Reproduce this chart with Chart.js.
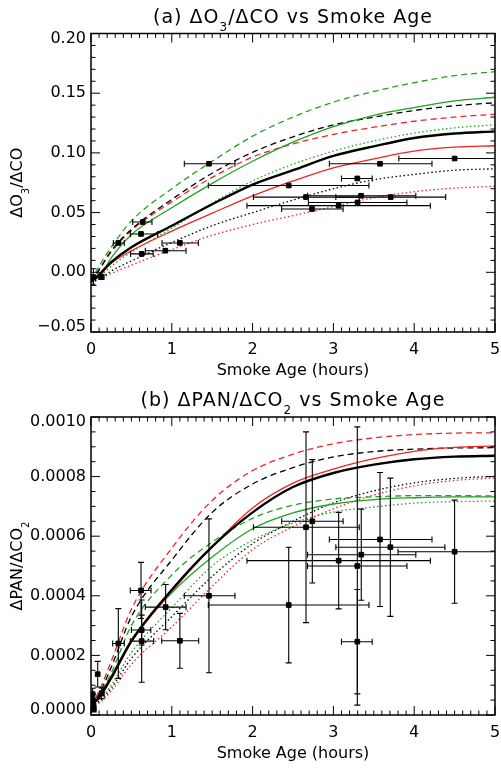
<!DOCTYPE html>
<html>
<head>
<meta charset="utf-8">
<script src="https://cdn.jsdelivr.net/npm/chart.js@4/dist/chart.umd.min.js"></script>
<style>
  body { margin: 0; background: #fff; }
  canvas { display: block; }
</style>
</head>
<body>
<canvas id="chartA" width="501" height="385"></canvas>
<canvas id="chartB" width="501" height="385"></canvas>
<script>
// ---------- shared axis / model grid ----------
const AGE_TICKS = [0, 1, 2, 3, 4, 5];
const AGE_GRID = [0, 0.1, 0.25, 0.5, 1, 1.5, 2, 2.5, 3, 3.5, 4, 4.5, 5];

// ---------- panel (a) dO3/dCO ----------
const O3_TICKS = [-0.05, 0, 0.05, 0.10, 0.15, 0.20];
const O3_TICK_LABELS = ['\u22120.05', '0.00', '0.05', '0.10', '0.15', '0.20'];

const AGE_A    = [0.03, 0.13, 0.338, 0.619, 0.627, 0.64, 0.92, 1.10, 1.46, 2.447, 2.661, 2.735, 3.065, 3.296, 3.30, 3.342, 3.577, 3.709, 4.50];
const AGE_LO_A = [0.03, 0.10, 0.276, 0.486, 0.49, 0.516, 0.672, 0.879, 1.155, 1.452, 2.01, 2.36, 1.93, 3.10, 2.69, 2.68, 2.95, 3.03, 3.81];
const AGE_HI_A = [0.03, 0.16, 0.412, 0.826, 0.77, 0.755, 1.176, 1.328, 1.782, 3.44, 3.32, 3.12, 4.20, 3.48, 3.91, 4.02, 4.22, 4.39, 5.2];
const O3_A     = [-0.004, -0.004, 0.0246, 0.0321, 0.0154, 0.0421, 0.0181, 0.0246, 0.0909, 0.0727, 0.063, 0.053, 0.0558, 0.0786, 0.0585, 0.0641, 0.0909, 0.063, 0.0953];
const O3_ERR_A = [0.007, 0.002, 0, 0, 0, 0, 0, 0, 0, 0, 0, 0, 0, 0, 0, 0, 0, 0, 0];

const O3_BLACK_SOLID  = [-0.008, -0.002, 0.0085, 0.021, 0.039, 0.057, 0.0735, 0.0855, 0.0975, 0.1055, 0.1125, 0.1162, 0.118];
const O3_RED_SOLID    = [-0.008, -0.003, 0.0075, 0.018, 0.0345, 0.0495, 0.064, 0.0765, 0.0875, 0.095, 0.1015, 0.1048, 0.106];
const O3_GREEN_SOLID  = [-0.006, -0.0045, 0.012, 0.0315, 0.054, 0.0745, 0.093, 0.109, 0.122, 0.1315, 0.138, 0.1435, 0.1466];
const O3_BLACK_DASH   = [-0.008, 0.002, 0.018, 0.036, 0.061, 0.083, 0.1005, 0.1135, 0.1235, 0.130, 0.1355, 0.1395, 0.142];
const O3_RED_DASH     = [-0.008, 0.002, 0.017, 0.035, 0.059, 0.0795, 0.0965, 0.1075, 0.1155, 0.1215, 0.1265, 0.130, 0.1324];
const O3_GREEN_DASH   = [-0.008, 0.005, 0.021, 0.043, 0.070, 0.093, 0.114, 0.130, 0.1425, 0.1515, 0.1588, 0.1647, 0.168];
const O3_BLACK_DOT    = [-0.008, -0.006, 0.001, 0.0095, 0.025, 0.039, 0.050, 0.0605, 0.070, 0.0775, 0.082, 0.0855, 0.0867];
const O3_RED_DOT      = [-0.008, -0.006, -0.001, 0.006, 0.019, 0.031, 0.040, 0.0475, 0.055, 0.0625, 0.0675, 0.0705, 0.072];
const O3_GREEN_DOT    = [-0.008, -0.004, 0.005, 0.017, 0.037, 0.058, 0.0765, 0.0905, 0.1015, 0.110, 0.1165, 0.121, 0.1235];

// ---------- panel (b) dPAN/dCO2 ----------
const PAN_TICKS = [0, 0.0002, 0.0004, 0.0006, 0.0008, 0.0010];
const PAN_TICK_LABELS = ['0.0000', '0.0002', '0.0004', '0.0006', '0.0008', '0.0010'];

const AGE_B     = [0.02, 0.025, 0.03, 0.035, 0.083, 0.132, 0.338, 0.619, 0.627, 0.627, 0.924, 1.10, 1.46, 2.447, 2.661, 2.739, 3.065, 3.296, 3.296, 3.345, 3.577, 3.705, 4.50];
const AGE_LO_B  = [0.02, 0.025, 0.03, 0.035, 0.083, 0.11, 0.268, 0.486, 0.50, 0.486, 0.672, 0.875, 1.155, 1.452, 2.01, 2.36, 1.93, 2.68, 3.10, 2.68, 2.95, 3.03, 3.80];
const AGE_HI_B  = [0.02, 0.025, 0.03, 0.035, 0.083, 0.16, 0.412, 0.743, 0.74, 0.776, 1.176, 1.333, 1.782, 3.44, 3.32, 3.12, 4.20, 3.91, 3.48, 4.02, 4.22, 4.38, 5.2];
const PAN_B     = [0.00007, 0.00005, 0.000035, 0.00002, 0.000137, 0.000073, 0.00024, 0.000418, 0.000285, 0.000248, 0.000362, 0.000249, 0.0004, 0.000369, 0.00063, 0.00065, 0.000518, 0.0005, 0.000246, 0.000538, 0.000589, 0.000563, 0.000548];
const PAN_ERR_B = [0.00002, 0.00002, 0.000015, 0.00001, 0.000043, 0.000018, 0.000117, 0.000094, 0.00005, 0.000138, 0.000076, 0.000092, 0.000258, 0.000194, 0.00032, 0.000207, 0.000162, 0.000467, 0.000175, 0.000153, 0.000225, 0.000232, 0.000173];

const PAN_BLACK_SOLID = [0.00003, 0.00006, 0.000125, 0.000248, 0.00042, 0.000565, 0.00068, 0.000765, 0.000812, 0.00084, 0.000858, 0.000867, 0.00087];
const PAN_RED_SOLID   = [0.00003, 0.000055, 0.00012, 0.000245, 0.000415, 0.000565, 0.000695, 0.000778, 0.000825, 0.00086, 0.000885, 0.000898, 0.000903];
const PAN_GREEN_SOLID = [0.00003, 0.00006, 0.00013, 0.000252, 0.00041, 0.00053, 0.000625, 0.000678, 0.000708, 0.000723, 0.000729, 0.000732, 0.000732];
const PAN_BLACK_DASH  = [0.00003, 0.00007, 0.00016, 0.00033, 0.00052, 0.00068, 0.000775, 0.00083, 0.000866, 0.000884, 0.000892, 0.000896, 0.000897];
const PAN_RED_DASH    = [0.00003, 0.00008, 0.00018, 0.000355, 0.00056, 0.00072, 0.00082, 0.000875, 0.00091, 0.00093, 0.000941, 0.000946, 0.000947];
const PAN_GREEN_DASH  = [0.00003, 0.000065, 0.00014, 0.0003, 0.00047, 0.00058, 0.00066, 0.000704, 0.000725, 0.000732, 0.000736, 0.000736, 0.000735];
const PAN_BLACK_DOT   = [0.00003, 0.000045, 0.00009, 0.00019, 0.00033, 0.000465, 0.000575, 0.00065, 0.000712, 0.000752, 0.000779, 0.000794, 0.000801];
const PAN_RED_DOT     = [0.00003, 0.00004, 0.00008, 0.00017, 0.000296, 0.000432, 0.000555, 0.000632, 0.000692, 0.000738, 0.000769, 0.000787, 0.000795];
const PAN_GREEN_DOT   = [0.00003, 0.00005, 0.0001, 0.00021, 0.00036, 0.0005, 0.000586, 0.000644, 0.000681, 0.000698, 0.000711, 0.000716, 0.000718];

// ---------- styles ----------
const RED = 'rgb(238,36,36)';
const GREEN = 'rgb(34,160,34)';
const FONT = '"DejaVu Sans", sans-serif';
const DASH = [6, 4];
const DOT = [1.5, 2.5];

// "{...}" marks a subscript
function parseRich(s) {
  const parts = [];
  const re = /\{([^}]*)\}|([^{]+)/g;
  let m;
  while ((m = re.exec(s))) {
    parts.push(m[1] !== undefined ? { t: m[1], sub: true } : { t: m[2], sub: false });
  }
  return parts;
}

function drawRich(ctx, s, cx, cy, size, rot, spacing) {
  const parts = parseRich(s);
  const subSize = Math.round(size * 0.62);
  ctx.save();
  ctx.letterSpacing = spacing || '0px';
  let w = 0;
  parts.forEach(p => {
    ctx.font = (p.sub ? subSize : size) + 'px ' + FONT;
    p.w = ctx.measureText(p.t).width;
    w += p.w;
  });
  ctx.translate(cx, cy);
  ctx.rotate(rot || 0);
  ctx.textBaseline = 'middle';
  ctx.textAlign = 'left';
  ctx.fillStyle = '#000';
  let x = -w / 2;
  parts.forEach(p => {
    ctx.font = (p.sub ? subSize : size) + 'px ' + FONT;
    ctx.fillText(p.t, x, p.sub ? size * 0.52 : 0);
    x += p.w;
  });
  ctx.restore();
}

// IDL-like box: inward ticks on all sides, labels, titles, error bars
const idlPlugin = {
  id: 'idl',
  beforeDatasetDraw(chart, args, o) {
    if (args.index !== 0) return;
    const { ctx, chartArea: a, scales: { x, y } } = chart;
    ctx.save();
    ctx.beginPath();
    ctx.rect(a.left, a.top, a.right - a.left, a.bottom - a.top);
    ctx.clip();
    ctx.strokeStyle = '#000';
    ctx.lineWidth = 1.1;
    const cap = 3;
    o.ages.forEach((age, i) => {
      const px = x.getPixelForValue(age);
      const py = y.getPixelForValue(o.vals[i]);
      ctx.beginPath();
      if (o.lo[i] < o.hi[i]) {
        const x0 = x.getPixelForValue(o.lo[i]);
        const x1 = x.getPixelForValue(o.hi[i]);
        ctx.moveTo(x0, py); ctx.lineTo(x1, py);
        ctx.moveTo(x0, py - cap); ctx.lineTo(x0, py + cap);
        ctx.moveTo(x1, py - cap); ctx.lineTo(x1, py + cap);
      }
      if (o.err[i] > 0) {
        const y0 = y.getPixelForValue(o.vals[i] - o.err[i]);
        const y1 = y.getPixelForValue(o.vals[i] + o.err[i]);
        ctx.moveTo(px, y0); ctx.lineTo(px, y1);
        ctx.moveTo(px - cap, y0); ctx.lineTo(px + cap, y0);
        ctx.moveTo(px - cap, y1); ctx.lineTo(px + cap, y1);
      }
      ctx.stroke();
    });
    ctx.restore();
  },
  afterDraw(chart, args, o) {
    const { ctx, chartArea: a, scales: { x, y } } = chart;
    ctx.save();
    ctx.strokeStyle = '#000';
    ctx.lineWidth = 1.5;
    ctx.strokeRect(a.left, a.top, a.right - a.left, a.bottom - a.top);

    // ticks
    ctx.lineWidth = 1;
    ctx.beginPath();
    const nx = Math.round((x.max - x.min) / o.xMinor);
    for (let k = 0; k <= nx; k++) {
      const p = x.getPixelForValue(x.min + k * o.xMinor);
      const len = k % o.xPer === 0 ? 9 : 4.5;
      ctx.moveTo(p, a.bottom); ctx.lineTo(p, a.bottom - len);
      ctx.moveTo(p, a.top); ctx.lineTo(p, a.top + len);
    }
    const ny = Math.round((y.max - y.min) / o.yMinor);
    for (let k = 0; k <= ny; k++) {
      const p = y.getPixelForValue(y.min + k * o.yMinor);
      const len = k % o.yPer === 0 ? 9 : 4.5;
      ctx.moveTo(a.left, p); ctx.lineTo(a.left + len, p);
      ctx.moveTo(a.right, p); ctx.lineTo(a.right - len, p);
    }
    ctx.stroke();

    // tick labels
    ctx.fillStyle = '#000';
    ctx.font = '16px ' + FONT;
    ctx.textBaseline = 'middle';
    ctx.textAlign = 'center';
    AGE_TICKS.forEach(v => ctx.fillText(String(v), x.getPixelForValue(v), a.bottom + 18));
    ctx.textAlign = 'right';
    o.yTicks.forEach((v, i) => {
      let p = y.getPixelForValue(v);
      if (i === 0) p -= 5;
      if (i === o.yTicks.length - 1) p += 5;
      ctx.fillText(o.yLabels[i], a.left - 5, p);
    });
    ctx.restore();

    // titles
    const cx = (a.left + a.right) / 2;
    drawRich(ctx, o.title, cx, o.titleY, 19, 0, '1px');
    drawRich(ctx, 'Smoke Age (hours)', cx, a.bottom + 38.5, 16, 0);
    drawRich(ctx, o.yTitle, 18, (a.top + a.bottom) / 2, 16, -Math.PI / 2);
  }
};

function curve(vals, color, width, dash) {
  return {
    type: 'scatter',
    data: AGE_GRID.map((a, i) => ({ x: a, y: vals[i] })),
    showLine: true,
    borderColor: color,
    borderWidth: width,
    borderDash: dash,
    pointRadius: 0,
    cubicInterpolationMode: 'monotone',
    fill: false,
    clip: 0
  };
}

function makeChart(id, o) {
  const datasets = [{
    type: 'scatter',
    data: o.ages.map((a, i) => ({ x: a, y: o.vals[i] })),
    pointStyle: 'rect',
    pointRadius: 3.3,
    backgroundColor: '#000',
    borderColor: '#000',
    borderWidth: 1
  }].concat(o.curves);
  return new Chart(document.getElementById(id), {
    type: 'scatter',
    data: { datasets },
    options: {
      responsive: false,
      animation: false,
      events: [],
      layout: { padding: o.padding },
      scales: {
        x: { type: 'linear', min: 0, max: 5, display: false },
        y: { type: 'linear', min: o.yTicks[0], max: o.yTicks[o.yTicks.length - 1], display: false }
      },
      plugins: { legend: { display: false }, tooltip: { enabled: false }, idl: o }
    },
    plugins: [idlPlugin]
  });
}

makeChart('chartA', {
  title: '(a) \u0394O{3}/\u0394CO vs Smoke Age',
  titleY: 18,
  yTitle: '\u0394O{3}/\u0394CO',
  yTicks: O3_TICKS, yLabels: O3_TICK_LABELS,
  xMinor: 0.1, xPer: 10, yMinor: 0.01, yPer: 5,
  padding: { left: 91, right: 6, top: 33.5, bottom: 53 },
  ages: AGE_A, lo: AGE_LO_A, hi: AGE_HI_A, vals: O3_A, err: O3_ERR_A,
  curves: [
    curve(O3_BLACK_SOLID, '#000', 2.4, []),
    curve(O3_RED_SOLID, RED, 1.3, []),
    curve(O3_GREEN_SOLID, GREEN, 1.3, []),
    curve(O3_BLACK_DASH, '#000', 1.3, DASH),
    curve(O3_RED_DASH, RED, 1.3, DASH),
    curve(O3_GREEN_DASH, GREEN, 1.3, DASH),
    curve(O3_BLACK_DOT, '#000', 1.3, DOT),
    curve(O3_RED_DOT, RED, 1.3, DOT),
    curve(O3_GREEN_DOT, GREEN, 1.3, DOT)
  ]
});

makeChart('chartB', {
  title: '(b) \u0394PAN/\u0394CO{2} vs Smoke Age',
  titleY: 16,
  yTitle: '\u0394PAN/\u0394CO{2}',
  yTicks: PAN_TICKS, yLabels: PAN_TICK_LABELS,
  xMinor: 0.1, xPer: 10, yMinor: 0.00005, yPer: 4,
  padding: { left: 91, right: 6, top: 32, bottom: 55 },
  ages: AGE_B, lo: AGE_LO_B, hi: AGE_HI_B, vals: PAN_B, err: PAN_ERR_B,
  curves: [
    curve(PAN_BLACK_SOLID, '#000', 2.4, []),
    curve(PAN_RED_SOLID, RED, 1.3, []),
    curve(PAN_GREEN_SOLID, GREEN, 1.3, []),
    curve(PAN_BLACK_DASH, '#000', 1.3, DASH),
    curve(PAN_RED_DASH, RED, 1.3, DASH),
    curve(PAN_GREEN_DASH, GREEN, 1.3, DASH),
    curve(PAN_BLACK_DOT, '#000', 1.3, DOT),
    curve(PAN_RED_DOT, RED, 1.3, DOT),
    curve(PAN_GREEN_DOT, GREEN, 1.3, DOT)
  ]
});
</script>
</body>
</html>
